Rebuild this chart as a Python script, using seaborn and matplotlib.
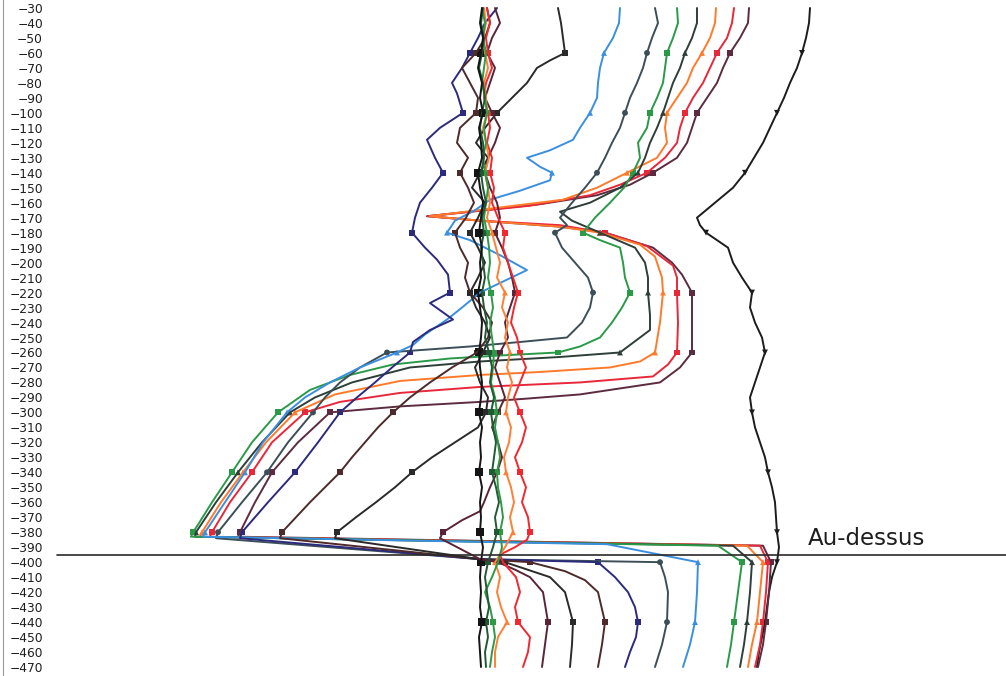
import matplotlib
matplotlib.use("Agg")
import matplotlib.pyplot as plt
import pandas as pd
import seaborn as sns

# Regular depth grid (every 10 units) used by the near-axis profiles
GRID = list(range(-30, -471, -10))

BLACK_VAL = [0.2, 0.0, 0.3, 0.1, -0.2, 0.2, 0.0, 0.3, -0.1, 0.1,
             0.2, -0.2, 0.0, 0.3, 0.1, -0.1, 0.2, 0.0, 0.1, -0.2,
             0.0, 0.2, 0.1, -0.1, 0.0, 0.2, 0.1, -0.1, 0.2, 0.0,
             0.1, -0.1, 0.2, 0.0, 0.1, 0.0, 0.3, 0.1, 0.0, 0.1,
             0.0, 0.2, -0.1, 0.0, 0.1]
DKGREEN_VAL = [0.3, 0.1, 0.4, 0.2, -0.1, 0.3, 0.5, 0.2, 0.0, 0.3,
               0.4, 0.1, 0.3, 0.6, 0.2, 0.4, 0.1, 0.3, 0.5, 0.2,
               0.4, 0.7, 0.5, 0.9, 1.2, 1.0, 1.4, 1.1, 1.3, 1.6,
               1.4, 1.2, 1.6, 1.9, 1.5, 1.7, 1.3, 0.8, 0.5, 0.7,
               0.9, 0.6, 0.8, 0.5, 0.6]
GREEN2_VAL = [0.2, 0.5, 0.3, 0.6, 0.4, 0.2, 0.5, 0.7, 0.4, 0.6,
              0.3, 0.5, 0.8, 0.6, 0.4, 0.7, 0.9, 1.0, 0.8, 1.1,
              1.3, 1.0, 1.2, 1.4, 1.3, 1.1, 1.5, 1.7, 1.5, 1.8,
              2.0, 1.7, 1.8, 2.1, 2.3, 2.0, 2.2, 1.8, 1.2, 0.5,
              1.0, 1.3, 1.5, 1.2, 1.0]
ORANGE2_VAL = [0.4, 0.6, 0.3, 0.5, 0.8, 0.4, 0.6, 0.7, 0.3, 0.6,
               0.9, 0.5, 0.8, 1.0, 0.7, 1.2, 1.6, 2.0, 1.7, 2.5,
               2.2, 2.8, 2.5, 3.0, 2.7, 3.2, 2.8, 2.6, 3.1, 2.9,
               2.4, 2.6, 3.1, 3.4, 3.0, 3.3, 2.5, 1.5, 2.0, 1.7,
               2.1, 2.7, 1.8, 1.5, 1.5]

# Profiles with their own (depth, value) samples
BLACK_FAR = [(-30, 33.0), (-40, 32.9), (-50, 32.6), (-60, 32.2), (-70, 31.7), (-80, 31.0),
             (-90, 30.4), (-100, 29.7), (-110, 29.0), (-120, 28.3), (-130, 27.4), (-140, 26.5),
             (-150, 25.3), (-160, 23.5), (-170, 21.7), (-175, 22.0), (-180, 22.6), (-190, 24.8),
             (-200, 25.3), (-210, 26.2), (-220, 27.2), (-230, 27.0), (-240, 27.5), (-250, 28.2),
             (-260, 28.5), (-270, 28.0), (-280, 27.5), (-290, 27.0), (-300, 27.2), (-310, 27.5),
             (-320, 28.0), (-330, 28.5), (-340, 28.8), (-350, 29.2), (-360, 29.5), (-370, 29.6),
             (-380, 29.7), (-390, 29.9), (-400, 29.7), (-410, 29.2), (-420, 28.9), (-430, 28.7),
             (-440, 28.5), (-450, 28.2), (-460, 27.9), (-470, 27.7)]
MAROON = [(-30, 26.9), (-40, 26.8), (-50, 26.0), (-60, 25.0), (-70, 24.3), (-80, 23.7),
          (-90, 22.7), (-100, 21.7), (-110, 21.2), (-120, 20.7), (-130, 19.7), (-140, 17.3),
          (-148, 15.0), (-155, 11.7), (-161, 6.0), (-169, -5.3), (-172, 0.0), (-176, 8.0),
          (-180, 12.5), (-190, 17.3), (-200, 19.2), (-208, 20.2), (-220, 21.2), (-240, 21.2),
          (-260, 21.2), (-270, 20.0), (-280, 18.0), (-288, 10.0), (-291, 4.3), (-293, 0.0),
          (-296, -8.0), (-300, -15.0), (-320, -18.2), (-340, -20.8), (-360, -22.5), (-380, -24.0),
          (-383, -24.2), (-389, 28.3), (-400, 29.1), (-420, 28.9), (-440, 28.6), (-455, 28.3),
          (-470, 27.8)]
RED = [(-30, 25.4), (-40, 25.2), (-50, 24.7), (-60, 23.7), (-70, 23.0), (-80, 22.3),
       (-90, 21.3), (-100, 20.5), (-110, 20.0), (-120, 19.7), (-130, 18.5), (-140, 16.7),
       (-148, 14.0), (-155, 11.0), (-162, 5.0), (-169, -5.2), (-172, 0.0), (-175, 8.0),
       (-180, 12.5), (-189, 16.7), (-202, 19.3), (-210, 19.7), (-220, 19.7), (-240, 19.8),
       (-260, 19.7), (-268, 18.8), (-276, 17.3), (-280, 10.0), (-283, 0.0), (-287, -8.0),
       (-293, -14.0), (-300, -17.5), (-320, -20.8), (-340, -22.8), (-360, -25.0), (-380, -26.8),
       (-383, -27.0), (-389, 28.0), (-400, 28.8), (-420, 28.6), (-440, 28.3), (-455, 28.0),
       (-470, 27.5)]
ORANGE = [(-30, 23.6), (-40, 23.5), (-50, 23.0), (-60, 22.2), (-70, 21.3), (-80, 20.7),
          (-90, 19.7), (-100, 18.7), (-110, 18.5), (-120, 18.7), (-130, 17.7), (-140, 14.7),
          (-150, 11.7), (-158, 8.3), (-164, 1.0), (-169, -5.0), (-172, 0.0), (-176, 8.0),
          (-180, 12.0), (-188, 16.0), (-196, 17.5), (-210, 18.2), (-220, 18.3), (-240, 18.0),
          (-260, 17.5), (-266, 16.0), (-270, 13.0), (-273, 6.0), (-275, 0.0), (-279, -8.0),
          (-288, -14.5), (-300, -18.5), (-320, -21.4), (-340, -23.7), (-360, -25.9), (-380, -27.8),
          (-383, -28.0), (-389, 26.7), (-400, 28.3), (-420, 28.0), (-440, 27.7), (-455, 27.2),
          (-470, 26.8)]
DK = [(-30, 21.7), (-40, 21.7), (-50, 21.2), (-60, 20.5), (-70, 20.0), (-80, 19.3),
      (-90, 18.8), (-100, 18.3), (-110, 17.7), (-120, 17.0), (-130, 16.5), (-140, 15.8),
      (-150, 14.0), (-160, 11.0), (-166, 8.0), (-172, 9.2), (-180, 12.0), (-190, 15.5),
      (-200, 16.5), (-210, 16.8), (-220, 16.8), (-235, 17.0), (-245, 17.0), (-255, 15.0),
      (-260, 14.0), (-263, 8.0), (-266, 0.0), (-270, -7.0), (-280, -12.8), (-290, -16.5),
      (-300, -19.0), (-320, -21.8), (-340, -24.2), (-360, -26.4), (-380, -28.4), (-383, -28.5),
      (-389, 25.3), (-400, 27.2), (-420, 27.0), (-440, 26.7), (-455, 26.4), (-470, 26.0)]
GREEN = [(-30, 19.7), (-40, 19.8), (-50, 19.3), (-60, 18.7), (-70, 18.5), (-80, 18.3),
         (-90, 17.7), (-100, 17.0), (-110, 16.7), (-120, 15.8), (-130, 16.0), (-140, 15.3),
         (-150, 14.4), (-160, 13.0), (-170, 11.5), (-180, 10.3), (-185, 12.0), (-190, 14.0),
         (-200, 14.3), (-210, 14.5), (-220, 15.0), (-230, 14.2), (-240, 13.2), (-250, 12.0),
         (-256, 10.0), (-260, 7.8), (-262, 2.0), (-264, -3.0), (-268, -8.7), (-275, -13.0),
         (-285, -17.0), (-300, -20.2), (-320, -22.8), (-340, -24.8), (-360, -26.8), (-375, -28.2),
         (-380, -28.7), (-383, -28.9), (-389, 23.8), (-400, 26.2), (-420, 25.8), (-440, 25.4),
         (-455, 25.1), (-470, 24.7)]
SLATE = [(-30, 17.5), (-40, 17.8), (-50, 17.2), (-60, 16.7), (-70, 16.3), (-80, 15.7),
         (-90, 15.0), (-100, 14.5), (-110, 14.0), (-120, 13.2), (-130, 12.5), (-140, 11.7),
         (-150, 10.5), (-160, 9.2), (-170, 8.0), (-175, 8.7), (-180, 7.5), (-190, 8.2),
         (-200, 9.5), (-210, 10.8), (-220, 11.3), (-230, 11.0), (-240, 10.2), (-250, 8.7),
         (-253, 4.0), (-256, -1.0), (-260, -9.3), (-270, -12.0), (-280, -14.0), (-290, -15.5),
         (-300, -16.7), (-320, -19.2), (-340, -21.3), (-360, -23.8), (-380, -26.2), (-384, -26.4),
         (-398, 0.0), (-400, 18.0), (-410, 18.5), (-420, 18.8), (-440, 18.7), (-455, 18.2),
         (-470, 17.5)]
BLUE = [(-30, 14.0), (-40, 13.9), (-50, 13.3), (-60, 12.4), (-70, 12.0), (-80, 11.8),
        (-90, 11.7), (-100, 11.0), (-110, 10.0), (-118, 9.3), (-125, 7.0), (-130, 4.7),
        (-136, 6.0), (-140, 7.2), (-145, 7.0), (-152, 4.0), (-158, 1.0), (-165, -0.5),
        (-172, -2.5), (-180, -3.3), (-185, -1.0), (-195, 2.0), (-205, 4.7), (-212, 2.5),
        (-220, 0.0), (-230, -1.8), (-238, -3.3), (-248, -5.5), (-255, -6.7), (-260, -8.3),
        (-270, -12.0), (-280, -15.0), (-290, -17.5), (-300, -19.3), (-320, -21.7), (-340, -23.5),
        (-360, -25.5), (-380, -27.5), (-383, -27.7), (-388, 12.7), (-400, 21.8), (-420, 21.7),
        (-440, 21.5), (-455, 21.0), (-470, 20.3)]
NAVY = [(-30, 1.7), (-40, 0.5), (-50, -0.2), (-60, -1.0), (-70, -1.8), (-80, -2.8),
        (-87, -2.3), (-100, -1.7), (-110, -4.0), (-118, -5.3), (-130, -4.5), (-140, -3.7),
        (-150, -4.8), (-160, -6.0), (-170, -6.5), (-180, -6.8), (-190, -5.5), (-198, -4.3),
        (-208, -3.2), (-220, -3.0), (-227, -5.0), (-238, -2.7), (-245, -5.0), (-253, -6.7),
        (-260, -7.0), (-270, -8.8), (-280, -10.5), (-290, -12.3), (-300, -14.0), (-320, -16.2),
        (-340, -18.5), (-360, -21.2), (-380, -23.8), (-384, -24.0), (-398, 0.0), (-400, 11.8),
        (-410, 13.5), (-420, 14.8), (-430, 15.5), (-440, 15.8), (-450, 15.6), (-460, 15.0),
        (-470, 14.5)]
BROWN = [(-30, 0.7), (-40, 1.0), (-50, 0.5), (-60, -0.4), (-70, -1.8), (-80, -1.0),
         (-90, -0.2), (-100, -0.4), (-110, -2.0), (-120, -2.3), (-130, -1.2), (-140, -2.0),
         (-150, -1.2), (-160, -0.6), (-170, -1.4), (-180, -2.5), (-190, -2.0), (-200, -1.2),
         (-210, -1.5), (-220, -1.0), (-230, 0.3), (-240, 1.2), (-250, 0.8), (-260, -0.3),
         (-270, -2.8), (-280, -5.0), (-290, -7.0), (-300, -8.7), (-310, -10.2), (-320, -11.5),
         (-330, -12.8), (-340, -14.0), (-350, -15.5), (-360, -17.0), (-370, -18.4), (-380, -19.8),
         (-384, -20.0), (-398, 0.0), (-400, 5.0), (-406, 8.5), (-412, 10.5), (-420, 11.8),
         (-440, 12.5), (-455, 12.2), (-470, 11.8)]
DARK = [(-30, 7.8), (-40, 8.1), (-50, 8.3), (-60, 8.5), (-65, 7.0), (-70, 5.7),
        (-80, 4.7), (-90, 3.2), (-100, 1.7), (-110, 0.5), (-120, -0.4), (-130, 0.8),
        (-140, 0.0), (-150, -0.8), (-160, 0.5), (-170, -0.2), (-180, -1.0), (-190, -0.2),
        (-200, 0.5), (-210, -0.2), (-220, -1.0), (-230, -0.4), (-240, 0.5), (-250, 1.0),
        (-260, 0.3), (-270, -0.5), (-280, 0.0), (-290, 0.8), (-300, 0.6), (-310, -0.2),
        (-320, -2.5), (-330, -4.8), (-340, -6.8), (-350, -8.5), (-360, -10.4), (-370, -12.4),
        (-380, -14.3), (-384, -14.5), (-398, 0.0), (-400, 2.5), (-410, 7.0), (-420, 8.5),
        (-440, 9.3), (-455, 9.2), (-470, 9.0)]
MAROON2 = [(-30, 1.5), (-40, 2.0), (-50, 1.2), (-60, 0.7), (-70, 1.5), (-80, 1.0),
           (-90, 0.5), (-100, 1.2), (-110, 2.0), (-120, 1.5), (-130, 0.8), (-140, 0.5),
           (-150, 1.0), (-160, 1.7), (-170, 2.0), (-180, 1.5), (-190, 2.2), (-200, 2.8),
           (-210, 3.2), (-220, 3.5), (-230, 3.0), (-240, 2.5), (-250, 2.8), (-260, 2.0),
           (-270, 1.5), (-280, 2.0), (-290, 2.5), (-300, 1.8), (-310, 1.2), (-320, 1.8),
           (-330, 2.2), (-340, 1.7), (-350, 1.0), (-360, 0.4), (-366, 0.0), (-372, -1.8),
           (-380, -3.7), (-384, -4.0), (-398, 0.0), (-400, 1.8), (-405, 3.5), (-410, 5.0),
           (-420, 6.3), (-440, 6.8), (-455, 6.5), (-470, 6.2)]
RED2 = [(-30, 0.7), (-40, 1.0), (-50, 0.6), (-60, 0.8), (-70, 1.2), (-80, 0.6),
        (-90, 0.4), (-100, 0.8), (-110, 1.0), (-120, 0.7), (-130, 1.2), (-140, 1.0),
        (-150, 1.4), (-160, 1.2), (-170, 1.8), (-180, 2.5), (-190, 2.3), (-200, 2.8),
        (-210, 3.3), (-220, 3.8), (-230, 3.4), (-240, 3.1), (-250, 3.7), (-260, 4.0),
        (-270, 4.6), (-280, 4.0), (-290, 3.4), (-300, 4.0), (-310, 4.6), (-320, 4.2),
        (-330, 3.5), (-340, 4.0), (-350, 4.6), (-360, 4.2), (-370, 4.8), (-380, 5.0),
        (-385, 4.7), (-390, 3.5), (-395, 2.0), (-400, 2.3), (-410, 3.6), (-420, 4.0),
        (-430, 3.5), (-440, 3.8), (-450, 5.0), (-460, 4.8), (-470, 4.3)]

# Depths carrying a symbol on every profile
MARK_DEPTHS = [-60, -100, -140, -180, -220, -260, -300, -340, -380, -400, -440]
# Reference level and its label
LEVEL = -395.3
LEVEL_LABEL = "Au-dessus"
Y_TICKS = list(range(-30, -471, -10))

# name, samples, colour, symbol (drawing order: back to front)
PROFILES = [
    ("blackfar", BLACK_FAR, "#1c1c1c", "v"),
    ("maroon", MAROON, "#5c2b40", "s"),
    ("red", RED, "#e8283a", "s"),
    ("orange", ORANGE, "#ff7a2a", "^"),
    ("dk", DK, "#2d3f38", "^"),
    ("green", GREEN, "#2a9a48", "s"),
    ("slate", SLATE, "#3c4f58", "o"),
    ("blue", BLUE, "#3b8fe0", "^"),
    ("navy", NAVY, "#2c2a7c", "s"),
    ("brown", BROWN, "#4e2a2a", "s"),
    ("dark", DARK, "#2a2a2a", "s"),
    ("maroon2", MAROON2, "#5a2438", "s"),
    ("red2", RED2, "#f0282f", "s"),
    ("orange2", list(zip(GRID, ORANGE2_VAL)), "#ff8035", "^"),
    ("green2", list(zip(GRID, GREEN2_VAL)), "#2f9a46", "s"),
    ("dkgreen", list(zip(GRID, DKGREEN_VAL)), "#1f5a35", "s"),
    ("black", list(zip(GRID, BLACK_VAL)), "#151515", "s"),
]

rows = []
for name, pts, _, _ in PROFILES:
    for i, (d, v) in enumerate(pts):
        rows.append({"profile": name, "step": i, "depth": d, "value": v})
df = pd.DataFrame(rows)

names = [p[0] for p in PROFILES]
palette = {p[0]: p[2] for p in PROFILES}
symbols = {p[0]: p[3] for p in PROFILES}

sns.set_theme(style="white")
plt.rcParams["font.family"] = ["DejaVu Sans"]

W, H = 1006, 676
fig = plt.figure(figsize=(W / 100, H / 100), dpi=100)
ax = fig.add_axes([3 / W, 0, 1 - 3 / W, 1])

sns.lineplot(data=df, x="value", y="depth", hue="profile", hue_order=names,
             palette=palette, sort=False, estimator=None, legend=False,
             linewidth=1.4, ax=ax)

marks = df[df["depth"].isin(MARK_DEPTHS)]
sns.scatterplot(data=marks, x="value", y="depth", hue="profile", hue_order=names,
                style="profile", style_order=names, markers=symbols,
                palette=palette, s=18, linewidth=0, legend=False, ax=ax)
centre = marks[marks["profile"] == "black"]
sns.scatterplot(data=centre, x="value", y="depth", color="#151515", marker="s",
                s=36, linewidth=0, legend=False, ax=ax)

ax.axhline(LEVEL, xmin=54 / (W - 3), xmax=1.0, color="#2a2a2a", lw=1.2, zorder=5)
ax.text(32.8, -388.5, LEVEL_LABEL, fontsize=16.5, color="#1e1e1e",
        ha="left", va="baseline")

ax.set_xlim(-47.7, 52.6)
ax.set_ylim(-476.0, -24.66)
ax.set_yticks(Y_TICKS)
ax.set_xticks([])
ax.tick_params(axis="y", length=0, pad=-28.8, labelsize=8.8, labelcolor="#1e1e1e")
for lab in ax.get_yticklabels():
    lab.set_horizontalalignment("right")
ax.set_xlabel("")
ax.set_ylabel("")
for side in ("top", "right", "bottom"):
    ax.spines[side].set_visible(False)
ax.spines["left"].set_color("#999999")
ax.spines["left"].set_linewidth(0.8)
ax.set_facecolor("white")

fig.savefig("out.png", dpi=100, facecolor="white")
